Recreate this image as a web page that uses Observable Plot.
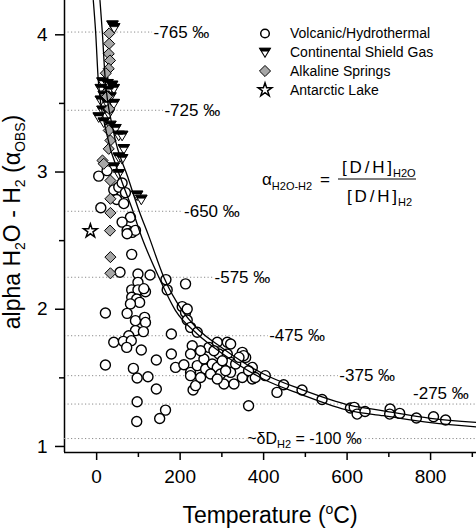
<!DOCTYPE html>
<html><head><meta charset="utf-8">
<script src="https://cdn.jsdelivr.net/npm/d3@7"></script>
<script src="https://cdn.jsdelivr.net/npm/@observablehq/plot@0.6"></script>
<style>body{margin:0;background:#fff}#chart{position:relative;width:476px;height:528px}</style>
</head><body><div id="chart"></div>
<script>
const FONT = "'Liberation Sans', Arial, Helvetica, sans-serif";

// scales / ticks
const xDomain = [-77, 910];
const yDomain = [0.956, 4.25];
const xMajorTicks = [0, 200, 400, 600, 800];
const xMinorTicks = [100, 300, 500, 700, 900];
const yMajorTicks = [1, 2, 3, 4];
const yMinorTicks = [1.5, 2.5, 3.5];

// series: [temperature °C, alpha]
const volcanic = [
  [5,2.97],[25,3.01],[41,2.87],[53,2.89],[61,2.92],[69,2.85],[48,2.80],[10,2.74],[65,2.77],[81,2.67],
  [61,2.635],[73,2.575],[85,2.56],[93,2.575],[73,2.55],[84,2.40],
  [56,2.27],[99,2.257],[128,2.25],[166,2.216],[213,2.185],[99,2.196],[84,2.141],[99,2.141],[117,2.128],
  [169,2.141],[113,2.15],[84,2.087],[96,2.075],[103,2.05],[81,2.039],[21,1.973],[73,1.97],[93,1.917],
  [115,1.941],[117,1.904],[205,2.019],[213,1.977],[217,1.922],[225,1.868],[241,1.832],[93,1.844],
  [112,1.837],[77,1.807],[179,1.82],[41,1.759],[64,1.766],[83,1.771],[72,1.722],[107,1.703],[179,1.674],
  [143,1.63],[21,1.594],[88,1.569],[97,1.499],[123,1.508],[189,1.576],[209,1.596],[225,1.54],[143,1.419],
  [231,1.411],[97,1.326],[165,1.265],[151,1.204],[96,1.182],
  [217,2.002],[229,1.734],[225,1.674],[241,1.589],[225,1.516],[237,1.443],[257,1.637],[269,1.722],
  [261,1.565],[277,1.601],[289,1.759],[293,1.674],[289,1.576],[297,1.528],[313,1.759],[313,1.674],
  [305,1.455],[321,1.613],[321,1.54],[329,1.455],[349,1.686],[357,1.649],[349,1.503],[373,1.576],
  [373,1.492],[404,1.516],[448,1.45],[432,1.394],[492,1.411],[364,1.297],[321,1.747],[352,1.662],
  [380,1.503],[249,1.698],[281,1.698],[301,1.625],[333,1.601],[341,1.649],[364,1.552],[273,1.528],
  [249,1.503],[309,1.552],[289,1.492],
  [540,1.342],[608,1.28],[617,1.285],[624,1.236],[643,1.255],[703,1.273],[702,1.236],[726,1.241],
  [766,1.207],[807,1.217],[836,1.193]
];
const shield = [
  [38,4.07],[42,4.05],[14,3.655],[26,3.643],[37,3.631],[10,3.607],[29,3.594],[41,3.607],[17,3.558],
  [33,3.546],[10,3.522],[26,3.498],[41,3.498],[14,3.449],[29,3.424],[5,3.40],[17,3.363],[33,3.339],
  [45,3.315],[53,3.266],[61,3.266],[65,3.169],[53,3.108],[61,3.096],[41,3.035],[53,2.987],[97,2.83],[107,2.80]
];
const alkaline = [
  [30,4.01],[30,3.935],[29,3.862],[32,3.813],[29,3.753],[22,3.72],[25,3.55],[30,3.46],[29,3.303],
  [33,3.23],[29,3.169],[14,3.084],[17,3.06],[33,2.938],[33,2.805],[33,2.702],[32,2.573],[33,2.38],[33,2.262]
];
const antarctic = [[-15,2.57]];

// equilibrium curves
const curveUpper = [[8,4.25],[13.6,4.02],[20,3.70],[40,3.30],[75,2.96],[102,2.714],[124,2.54],[161,2.233],
  [205,1.99],[241,1.86],[300,1.72],[400,1.528],[488,1.419],[608,1.30],[687,1.26],[800,1.205],[910,1.175]];
const curveLower = [[-8,4.25],[-2.4,4.02],[4,3.667],[24,3.28],[57,2.96],[87,2.714],[105,2.55],[149,2.233],
  [189,1.99],[241,1.82],[300,1.68],[400,1.49],[488,1.382],[608,1.26],[687,1.224],[800,1.173],[910,1.143]];

// δD(H2) reference lines
const deltaLabels = ["-765 ‰", "-725 ‰", "-650 ‰", "-575 ‰", "-475 ‰", "-375 ‰"];
const deltaAlpha = [4.02, 3.45, 2.714, 2.233, 1.807, 1.516];
const deltaLabelT = [134, 160, 207, 280, 411, 579];
const fullLineAlpha = [1.309, 1.054];
const label275 = "-275 ‰";
const label275T = 758;
const label100T = 362;

const seriesNames = ["Volcanic/Hydrothermal", "Continental Shield Gas", "Alkaline Springs", "Antarctic Lake"];

// custom symbols: downward triangle, and its black top band
const triDown = {draw(ctx, size){const k=Math.sqrt(size)/8.86; ctx.moveTo(-6*k,-4.5*k); ctx.lineTo(6*k,-4.5*k); ctx.lineTo(0,5.5*k); ctx.closePath();}};
const triTop = {draw(ctx, size){const k=Math.sqrt(size)/8.86; ctx.moveTo(-6*k,-4.5*k); ctx.lineTo(6*k,-4.5*k); ctx.lineTo(4.1*k,-1.3*k); ctx.lineTo(-4.1*k,-1.3*k); ctx.closePath();}};

const toObj = arr => arr.map(([t, a]) => ({t, a}));
const rows = deltaLabels.map((label, i) => ({label, a: deltaAlpha[i], t: deltaLabelT[i]}));
const DOT = {stroke: "#8c8c8c", strokeDasharray: "1.2,2.3", strokeWidth: 1};

const plot = Plot.plot({
  width: 476, height: 528,
  marginLeft: 64, marginRight: 0, marginTop: 0, marginBottom: 76,
  style: {fontFamily: FONT, background: "white", color: "black", overflow: "visible"},
  x: {domain: xDomain},
  y: {domain: yDomain},
  marks: [
    Plot.ruleY(rows, {y: "a", x1: xDomain[0], x2: "t", ...DOT}),
    Plot.ruleY([fullLineAlpha[0]], {...DOT}),
    Plot.dot(toObj(volcanic), {x: "t", y: "a", r: 5, fill: "white", stroke: "black", strokeWidth: 1.4}),
    Plot.dot(toObj(shield), {x: "t", y: "a", r: 4.8, symbol: triDown, fill: "white", stroke: "black", strokeWidth: 1}),
    Plot.dot(toObj(shield), {x: "t", y: "a", r: 4.8, symbol: triTop, fill: "black", stroke: "black", strokeWidth: 0.6}),
    Plot.dot(toObj(alkaline), {x: "t", y: "a", r: 5, symbol: "diamond2", fill: "#a6a6a6", stroke: "black", strokeWidth: 1}),
    Plot.dot(toObj(antarctic), {x: "t", y: "a", r: 4.3, symbol: "star", fill: "white", stroke: "black", strokeWidth: 1.5}),
    Plot.line(toObj(curveUpper), {x: "t", y: "a", curve: "monotone-x", stroke: "black", strokeWidth: 1.3, clip: true}),
    Plot.line(toObj(curveLower), {x: "t", y: "a", curve: "monotone-x", stroke: "black", strokeWidth: 1.3, clip: true}),
    Plot.text(rows, {x: "t", y: "a", text: "label", textAnchor: "start", fontSize: 17, dx: 1}),
    Plot.text([label275], {x: label275T, y: fullLineAlpha[0], text: d => d, dy: -11, textAnchor: "start", fontSize: 17}),
    Plot.axisX({ticks: xMajorTicks, tickSize: 8, tickPadding: 9, fontSize: 19, strokeWidth: 1.5, label: null}),
    Plot.axisX({ticks: xMinorTicks, tickSize: 5, tickFormat: () => "", strokeWidth: 1.5, label: null}),
    Plot.axisY({ticks: yMajorTicks, tickSize: 9, tickPadding: 8, fontSize: 19, tickFormat: d3.format("d"), strokeWidth: 1.5, label: null}),
    Plot.axisY({ticks: yMinorTicks, tickSize: 5, tickFormat: () => "", strokeWidth: 1.5, label: null}),
    Plot.ruleX([xDomain[0]], {strokeWidth: 1.5}),
    Plot.ruleY([yDomain[0]], {strokeWidth: 1.5})
  ]
});
document.getElementById("chart").appendChild(plot);

const svg = d3.select(plot);
const sx = plot.scale("x"), sy = plot.scale("y");

// -100 ‰ line with label gap
const g100 = svg.append("g").attr("font-family", FONT).attr("text-anchor", "start");
const y100 = sy.apply(fullLineAlpha[1]);
g100.append("line").attr("x1", sx.range[0]).attr("x2", sx.range[1])
  .attr("y1", y100).attr("y2", y100).attr("stroke", DOT.stroke).attr("stroke-dasharray", DOT.strokeDasharray);
const bg = g100.append("rect").attr("fill", "white");
const t100 = g100.append("text").attr("x", sx.apply(label100T)).attr("y", y100 + 5.5).attr("font-size", 16);
t100.append("tspan").text("~δD");
t100.append("tspan").attr("font-size", 11).attr("dy", 4).text("H2");
t100.append("tspan").attr("dy", -4).text(" = -100 ‰");
const bb = t100.node().getBBox();
bg.attr("x", bb.x - 1).attr("y", bb.y).attr("width", bb.width + 2).attr("height", bb.height);

// axis titles
const xt = svg.append("text").attr("x", (sx.range[0] + sx.range[1]) / 2).attr("y", 522.5)
  .attr("text-anchor", "middle").attr("font-size", 23).attr("font-family", FONT);
xt.append("tspan").text("Temperature (");
xt.append("tspan").attr("font-size", 14).attr("dy", -9).text("o");
xt.append("tspan").attr("dy", 9).text("C)");

const yt = svg.append("text").attr("transform", "translate(20,222) rotate(-90)")
  .attr("text-anchor", "middle").attr("font-size", 23).attr("font-family", FONT);
yt.append("tspan").text("alpha H");
yt.append("tspan").attr("font-size", 14).attr("dy", 5).text("2");
yt.append("tspan").attr("dy", -5).text("O - H");
yt.append("tspan").attr("font-size", 14).attr("dy", 5).text("2");
yt.append("tspan").attr("dy", -5).text(" (α");
yt.append("tspan").attr("font-size", 14).attr("dy", 5).text("OBS");
yt.append("tspan").attr("dy", -5).text(")");

// legend
const lg = svg.append("g").attr("font-family", FONT).attr("font-size", 14).attr("text-anchor", "start");
const legendY = [33.5, 52.3, 71, 90];
const legendSym = [
  {sym: d3.symbolCircle, size: Math.PI * 4.3 * 4.3, fill: "white", sw: 1.5},
  {sym: triDown, size: Math.PI * 4.5 * 4.5, fill: "white", sw: 1.1, top: true},
  {sym: d3.symbolDiamond2, size: Math.PI * 5 * 5, fill: "#a6a6a6", sw: 1},
  {sym: d3.symbolStar, size: Math.PI * 4.3 * 4.3, fill: "white", sw: 1.5}
];
seriesNames.forEach((name, i) => {
  const s = legendSym[i];
  lg.append("path").attr("transform", `translate(265,${legendY[i]})`)
    .attr("d", d3.symbol(s.sym, s.size)()).attr("fill", s.fill).attr("stroke", "black").attr("stroke-width", s.sw);
  if (s.top) lg.append("path").attr("transform", `translate(265,${legendY[i]})`)
    .attr("d", d3.symbol(triTop, s.size)()).attr("fill", "black").attr("stroke", "black").attr("stroke-width", 0.6);
  lg.append("text").attr("x", 290).attr("y", legendY[i]).attr("dy", "0.35em").text(name);
});

// equation
const eq = svg.append("g").attr("font-family", FONT).attr("text-anchor", "start");
const a1 = eq.append("text").attr("x", 262).attr("y", 185).attr("font-size", 17);
a1.append("tspan").text("α");
a1.append("tspan").attr("font-size", 11).attr("dy", 5).text("H2O-H2");
eq.append("text").attr("x", 320).attr("y", 185).attr("font-size", 17).text("=");
eq.append("line").attr("x1", 338).attr("x2", 416).attr("y1", 179).attr("y2", 179).attr("stroke", "black").attr("stroke-width", 1.2);
eq.append("text").attr("x", 342).attr("y", 173).attr("font-size", 17).attr("textLength", 50).attr("lengthAdjust", "spacing").text("[D/H]");
eq.append("text").attr("x", 393).attr("y", 177).attr("font-size", 11).text("H2O");
eq.append("text").attr("x", 347).attr("y", 202).attr("font-size", 17).attr("textLength", 50).attr("lengthAdjust", "spacing").text("[D/H]");
eq.append("text").attr("x", 398).attr("y", 206).attr("font-size", 11).text("H2");
</script>
</body></html>
